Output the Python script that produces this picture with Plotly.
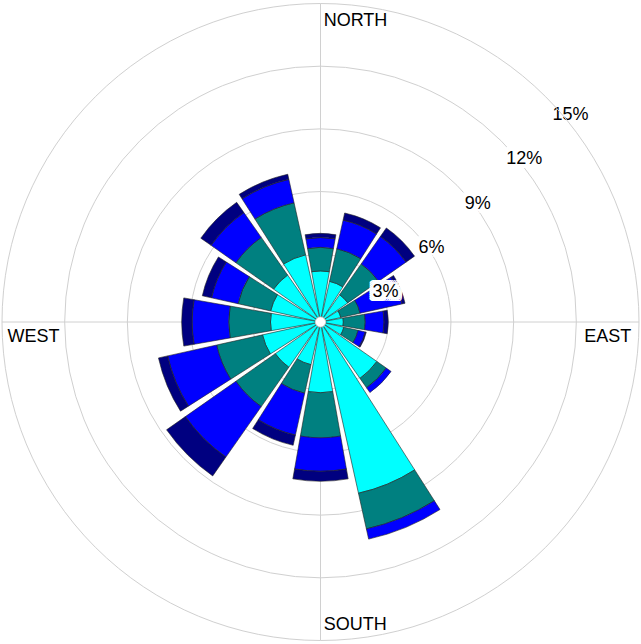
import math
import plotly.graph_objects as go

directions = ["N", "NNE", "NE", "ENE", "E", "ESE", "SE", "SSE",
              "S", "SSW", "SW", "WSW", "W", "WNW", "NW", "NNW"]
angles = [0, 22.5, 45, 67.5, 90, 112.5, 135, 157.5,
          180, 202.5, 225, 247.5, 270, 292.5, 315, 337.5]

# frequency (%) per speed class, stacked from the centre outwards
class1 = [2.2, 1.75, 1.35, 0.75, 0.85, 0.9, 3.05, 8.15, 3.14, 1.85, 2.4, 2.6, 2.15, 2.2, 2.5, 3.05]
class2 = [1.13, 1.6, 1.8, 0.95, 1.05, 0.7, 0.55, 1.75, 2.16, 1.4, 2.3, 2.25, 2.0, 1.6, 2.2, 2.55]
class3 = [0.47, 1.4, 1.6, 2.05, 0.9, 0.35, 0.28, 0.5, 1.6, 2.05, 2.95, 2.4, 1.75, 1.3, 1.45, 1.15]
class4 = [0.2, 0.35, 0.5, 0.15, 0.2, 0.05, 0.0, 0.0, 0.48, 0.5, 1.1, 0.45, 0.5, 0.45, 0.6, 0.25]

series = [class1, class2, class3, class4]
colors = ["#00FFFF", "#008080", "#0000FF", "#000080"]

radial_ticks = [3, 6, 9, 12, 15]
radial_labels = ["3%", "6%", "9%", "12%", "15%"]

compass_text = ["NORTH", "EAST", "SOUTH", "WEST"]
compass_theta = [0.6, 92.8, 179.4, 267.2]
compass_r = [14.15, 14.65, 14.3, 14.75]
compass_pos = ["middle right", "middle left", "middle right", "middle right"]

FONT = "Liberation Sans, Arial"
FONT_SIZE = 18

# ---- label placement (style constants): each ring label sits to the lower
# right of a guide line drawn at bearing LABEL_BEARING
LABEL_BEARING = 46.2       # degrees, compass
UNIT_PX = 20.87            # approx. screen pixels per percent
HOLE_PX = 5.0
PERP_PX = 21.3
NUDGE = (1.5, 3.0)         # screen px (x right, y down)
GAP_PX = 2.0
b = math.radians(LABEL_BEARING)
u = (math.sin(b), -math.cos(b))
n = (math.cos(b), math.sin(b))
lab_r, lab_theta = [], []
for t, txt in zip(radial_ticks, radial_labels):
    along = HOLE_PX + UNIT_PX * t * 1.02
    cx = along * u[0] + PERP_PX * n[0] + NUDGE[0]
    cy = along * u[1] + PERP_PX * n[1] + NUDGE[1]
    width = FONT_SIZE * (0.5 * (len(txt) - 1) + 0.85)
    ax = cx - width / 2 - GAP_PX
    ay = cy
    lab_r.append((math.hypot(ax, ay) - HOLE_PX) / UNIT_PX)
    lab_theta.append(math.degrees(math.atan2(ax, -ay)))

halo = ", ".join(f"{x}px {y}px 0 #fff" for x in (-4, -2, 0, 2, 4) for y in (-4, -2, 0, 2, 4)
                 if (x, y) != (0, 0))

fig = go.Figure()
for vals, col in zip(series, colors):
    fig.add_trace(go.Barpolar(
        r=vals, theta=angles, width=[20] * len(angles),
        marker=dict(color=col, line=dict(color="#222222", width=0.6)),
        showlegend=False, hoverinfo="skip",
    ))

fig.add_trace(go.Scatterpolar(
    r=lab_r, theta=lab_theta,
    mode="text", text=radial_labels, textposition="middle right",
    textfont=dict(family=FONT, size=FONT_SIZE, color="black", shadow=halo),
    showlegend=False, hoverinfo="skip", cliponaxis=False,
))

fig.add_trace(go.Scatterpolar(
    r=compass_r, theta=compass_theta, mode="text", text=compass_text,
    textposition=compass_pos,
    textfont=dict(family=FONT, size=FONT_SIZE, color="black"),
    showlegend=False, hoverinfo="skip", cliponaxis=False,
))

fig.update_layout(
    width=641, height=644,
    margin=dict(l=2, r=2, t=3, b=3),
    paper_bgcolor="white",
    font=dict(family=FONT, size=FONT_SIZE, color="black"),
    polar=dict(
        bgcolor="white",
        hole=0.016,
        barmode="stack",
        radialaxis=dict(
            range=[0, 15], tickvals=radial_ticks, showticklabels=False,
            showline=False, ticks="",
            gridcolor="#d0d0d0", gridwidth=1,
        ),
        angularaxis=dict(
            rotation=90, direction="clockwise",
            tickvals=[0, 90, 180, 270], showticklabels=False, ticks="",
            gridcolor="#d0d0d0", gridwidth=1,
            showline=True, linecolor="#d0d0d0", linewidth=1,
        ),
    ),
)

fig.write_html(
    "out.html",
    config={"displayModeBar": False},
    post_script="document.body.style.margin='0';document.body.style.overflow='hidden';",
)
